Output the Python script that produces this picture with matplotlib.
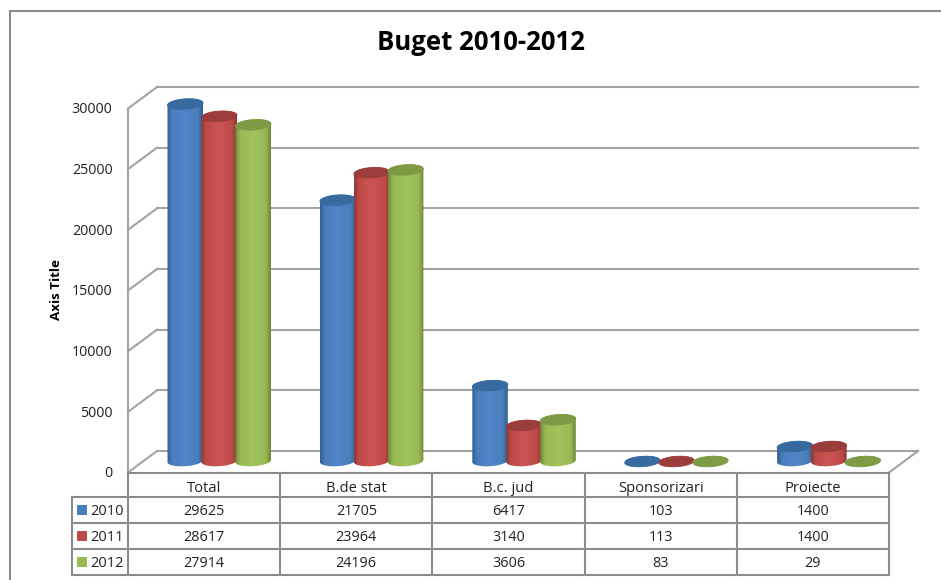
import numpy as np
import matplotlib
matplotlib.use("Agg")
import matplotlib.pyplot as plt
from matplotlib.colors import LinearSegmentedColormap
from matplotlib.patches import Polygon

years = ["2010", "2011", "2012"]
categories = ["Total", "B.de stat", "B.c. jud", "Sponsorizari", "Proiecte"]
v2010 = [29625, 21705, 6417, 103, 1400]
v2011 = [28617, 23964, 3140, 113, 1400]
v2012 = [27914, 24196, 3606, 83, 29]
series = [v2010, v2011, v2012]
axis_ticks = [0, 5000, 10000, 15000, 20000, 25000, 30000]

main_cols = ["#4a7ebb", "#be4b48", "#98b954"]
dark_cols = ["#376a9f", "#9b3d3b", "#7d9a45"]
edge_cols = ["#2f5f95", "#8c3836", "#6f8a38"]
light_cols = ["#4f86c8", "#cb5552", "#a2c45c"]
line_col = "#a3a3a3"
frame_col = "#8c8c8c"
text_col = "#222222"
font = "Open Sans"

W, H = 941, 580
PX = 30000 / 364.0      # value units per pixel
Y0 = 472.5              # pixel row of value 0 on the front edge

fig = plt.figure(figsize=(W / 100, H / 100), dpi=100)
ax = fig.add_axes([0, 0, 1, 1])
ax.set_xlim(0, W)
ax.set_ylim((Y0 - H) * PX, Y0 * PX)
ax.axis("off")


def row(py):
    # pixel row -> value axis
    return (Y0 - py) * PX


def hline(x0, x1, py0, py1=None, lw=1.5, col=line_col):
    py1 = py0 if py1 is None else py1
    ax.plot([x0, x1], [row(py0), row(py1)], color=col, lw=lw,
            solid_capstyle="projecting", zorder=1)


# outer frame
hline(10, 941, 11, col=frame_col)
hline(10, 10, 11, 580, col=frame_col)

# walls and gridlines
back_dy = 21.5
for t in axis_ticks:
    yf = Y0 - t / PX
    yb = yf - back_dy
    hline(128, 157, yf, yb)
    hline(157, 918, yb)
    ax.text(112.5, t - 1.2 * PX, str(t), ha="right", va="center", fontsize=10.3,
            family=font, color=text_col)
hline(128, 128, Y0 - 30000 / PX, Y0)
hline(889, 918, Y0, Y0 - back_dy)

# cylinders
start = 167.5
group_step = 152.4
bar_step = 34.0
bar_w = 35.5
ry = 5.2
tilt = 1.1
base_py = 461.0
t_par = np.linspace(0, 2 * np.pi, 80)

for i, vals in enumerate(series):
    cmap = LinearSegmentedColormap.from_list(
        "c", [(0, edge_cols[i]), (0.14, main_cols[i]), (0.5, light_cols[i]),
              (0.86, main_cols[i]), (1, edge_cols[i])])
    grad = cmap(np.linspace(0, 1, 64)).reshape(1, 64, 4)
    for j, v in enumerate(vals):
        x0 = start + j * group_step + i * bar_step
        xc = x0 + bar_w / 2
        top_py = base_py + 2.5 - v / PX
        if v < 200:
            top_py = base_py + 0.5
        ex = bar_w / 2 * np.cos(t_par)
        ey = ry * np.sin(t_par) - tilt * np.cos(t_par)
        lower = t_par <= np.pi
        side_x = np.r_[xc + ex[lower], xc + ex[lower][::-1]]
        side_y = np.r_[row(base_py + ey[lower]), row(top_py + ey[lower][::-1] - 2 * ry * np.sin(t_par[lower][::-1]))]
        clip = Polygon(np.c_[side_x, side_y], closed=True, transform=ax.transData)
        z = 3 + i + j * 0.01
        im = ax.imshow(grad, extent=(x0, x0 + bar_w, row(base_py + ry + 2), row(top_py - ry - 2)),
                       aspect="auto", zorder=z, interpolation="bilinear")
        im.set_clip_path(clip)
        ax.fill(xc + ex, row(top_py + ey), color=dark_cols[i], lw=0.6, zorder=z + 0.1)

ax.set_xlim(0, W)
ax.set_ylim((Y0 - H) * PX, Y0 * PX)

# data table
col_x = [128 + k * 152.2 for k in range(6)]
row_py = [Y0, 496.7, 523, 548.7, 575]
for p in row_py[1:]:
    hline(72, 889, p, col=frame_col)
hline(128, 889, row_py[0], col=frame_col)
hline(72, 72, row_py[1], row_py[-1], col=frame_col)
for x in col_x:
    hline(x, x, Y0, row_py[-1], col=frame_col)

for j, c in enumerate(categories):
    xc = (col_x[j] + col_x[j + 1]) / 2
    ax.text(xc, row((row_py[0] + row_py[1]) / 2 + 3.5), c, ha="center", va="center",
            fontsize=10.6, family=font, color=text_col)
for i, vals in enumerate(series):
    pc = (row_py[i + 1] + row_py[i + 2]) / 2
    ax.fill([77, 86.7, 86.7, 77], [row(pc - 4.7), row(pc - 4.7), row(pc + 4.7), row(pc + 4.7)],
            color=main_cols[i], lw=0)
    ax.text(90.5, row(pc + 1.5), years[i], ha="left", va="center", fontsize=10.5,
            family=font, color=text_col)
    for j, v in enumerate(vals):
        ax.text((col_x[j] + col_x[j + 1]) / 2, row(pc + 1.5), str(v), ha="center", va="center",
                fontsize=10.4, family=font, color=text_col)

ax.text(57, row(289), "Axis Title", rotation=90, ha="center", va="center",
        fontsize=9.6, fontweight="bold", family=font, color="black")
ax.text(481, row(42), "Buget 2010-2012", ha="center", va="center",
        fontsize=18.5, fontweight="bold", family=font, color="black")

fig.savefig("out.png", dpi=100, facecolor="white")
